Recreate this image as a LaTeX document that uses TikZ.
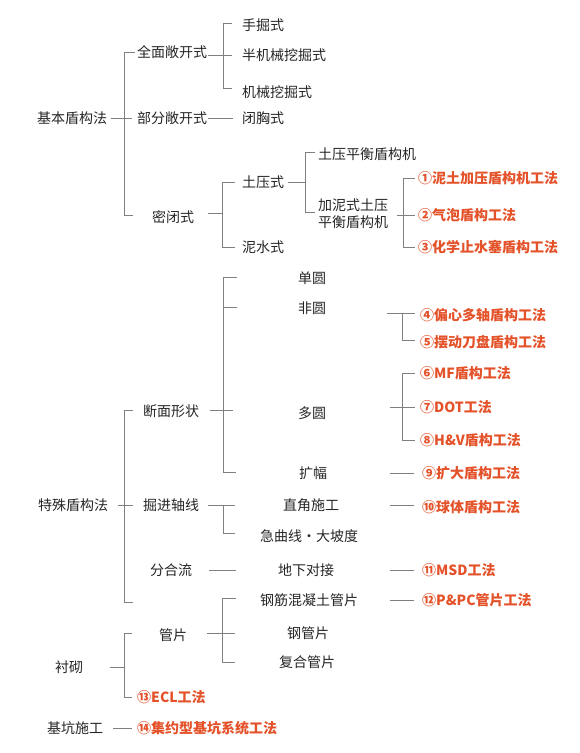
\documentclass[tikz,border=0pt]{standalone}
\usepackage{fontspec}
\setmainfont{Noto Sans CJK SC}
\begin{document}
\begin{tikzpicture}[x=1pt,y=-1pt,
  txt/.style={anchor=west,inner sep=0pt,text=black!85,font=\fontsize{14}{17}\selectfont},
  red/.style={txt,text=redc,font=\fontsize{14}{17}\selectfont\bfseries},
  ln/.style={draw=black!50,line width=0.8pt}]
\definecolor{redc}{RGB}{228,82,42}
\useasboundingbox[fill=white] (0,0) rectangle (580,753);
% level 1
\node[txt] (A1) at (37,118) {基本盾构法};
\node[txt] (A2) at (38,505) {特殊盾构法};
\node[txt] (A3) at (55,667) {衬砌};
\node[txt] (A4) at (47,728) {基坑施工};
% level 2
\node[txt] (B1) at (137,52) {全面敞开式};
\node[txt] (B2) at (137,118) {部分敞开式};
\node[txt] (B3) at (152,217) {密闭式};
\node[txt] (B4) at (143,411) {断面形状};
\node[txt] (B5) at (143,505) {掘进轴线};
\node[txt] (B6) at (150,570) {分合流};
\node[txt] (B7) at (159,635) {管片};
\node[red] (B8) at (137,697) {⑬ECL工法};
\node[red] (B9) at (137,728) {⑭集约型基坑系统工法};
% level 3
\node[txt] (C1) at (242,25) {手掘式};
\node[txt] (C2) at (242,55) {半机械挖掘式};
\node[txt] (C3) at (242,92) {机械挖掘式};
\node[txt] (C4) at (242,118) {闭胸式};
\node[txt] (C5) at (242,182) {土压式};
\node[txt] (C6) at (242,247) {泥水式};
\node[txt] (C7) at (298,278) {单圆};
\node[txt] (C8) at (298,308) {非圆};
\node[txt] (C9) at (298,413) {多圆};
\node[txt] (C10) at (299,473) {扩幅};
\node[txt] (C11) at (283,505) {直角施工};
\node[txt] (C12) at (260,536) {急曲线·大坡度};
\node[txt] (C13) at (278,570) {地下对接};
\node[txt] (C14) at (260,600) {钢筋混凝土管片};
\node[txt] (C15) at (287,633) {钢管片};
\node[txt] (C16) at (279,662) {复合管片};
% level 4
\node[txt] (D1) at (318,154) {土压平衡盾构机};
\node[txt,align=left] (D2) at (318,213.5) {加泥式土压\\平衡盾构机};
\node[red] (R1) at (418,178) {①泥土加压盾构机工法};
\node[red] (R2) at (418,215) {②气泡盾构工法};
\node[red] (R3) at (418,247) {③化学止水塞盾构工法};
\node[red] (R4) at (420,315) {④偏心多轴盾构工法};
\node[red] (R5) at (420,342) {⑤摆动刀盘盾构工法};
\node[red] (R6) at (420,373) {⑥MF盾构工法};
\node[red] (R7) at (420,407) {⑦DOT工法};
\node[red] (R8) at (420,440) {⑧H\&V盾构工法};
\node[red] (R9) at (422,473) {⑨扩大盾构工法};
\node[red] (R10) at (422,507) {⑩球体盾构工法};
\node[red] (R11) at (422,570) {⑪MSD工法};
\node[red] (R12) at (422,600) {⑫P\&PC管片工法};
% connectors
% 基本盾构法
\draw[ln] (111,118) -- (132,118);
\draw[ln] (135,52) -- (124,52) -- (124,215) -- (133,215);
% 全面敞开式
\draw[ln] (208,55) -- (232,55);
\draw[ln] (232,23) -- (223,23) -- (223,88) -- (232,88);
% 部分敞开式
\draw[ln] (208,118) -- (233,118);
% 密闭式
\draw[ln] (208,213) -- (222,213);
\draw[ln] (235,182) -- (222,182) -- (222,247) -- (235,247);
% 土压式
\draw[ln] (288,182) -- (305,182);
\draw[ln] (315,152) -- (305,152) -- (305,212) -- (315,212);
% 加泥式
\draw[ln] (397,215) -- (415,215);
\draw[ln] (415,178) -- (403,178) -- (403,247) -- (415,247);
% 特殊盾构法
\draw[ln] (118,505) -- (133,505);
\draw[ln] (133,410) -- (124,410) -- (124,602) -- (133,602);
% 断面形状
\draw[ln] (210,410) -- (233,410);
\draw[ln] (237,277) -- (223,277) -- (223,472) -- (236,472);
\draw[ln] (223,307) -- (237,307);
% 非圆
\draw[ln] (387,313) -- (415,313);
\draw[ln] (402,313) -- (402,340) -- (415,340);
% 多圆
\draw[ln] (390,407) -- (415,407);
\draw[ln] (415,373) -- (402,373) -- (402,440) -- (415,440);
% 扩幅
\draw[ln] (390,473) -- (414,473);
% 掘进轴线
\draw[ln] (208,505) -- (235,505);
\draw[ln] (223,505) -- (223,533) -- (235,533);
\draw[ln] (390,505) -- (414,505);
% 分合流
\draw[ln] (209,570) -- (236,570);
\draw[ln] (390,570) -- (414,570);
\draw[ln] (390,600) -- (414,600);
% 管片
\draw[ln] (236,598) -- (222,598) -- (222,662) -- (235,662);
\draw[ln] (207,633) -- (235,633);
% 衬砌
\draw[ln] (110,667) -- (124,667);
\draw[ln] (132,633) -- (124,633) -- (124,697) -- (132,697);
% 基坑施工
\draw[ln] (113,728) -- (132,728);
\end{tikzpicture}
\end{document}
